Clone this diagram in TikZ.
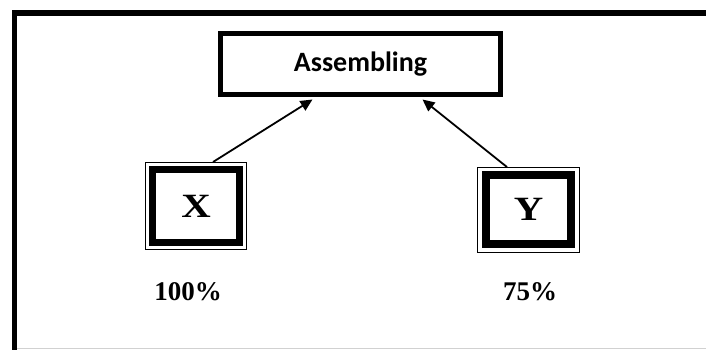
\documentclass[tikz,border=0pt]{standalone}
\usepackage{fontspec}
\setmainfont{Liberation Serif}
\newfontfamily\asmfont{Carlito}
\newfontfamily\boxfont[FakeStretch=1.2]{Liberation Serif}
\usetikzlibrary{arrows.meta}
\tikzset{
  asmbox/.style={draw, line width=5pt, inner sep=0pt, font=\asmfont\bfseries\fontsize{28}{32}\selectfont},
  thinbox/.style={draw, line width=1pt, inner sep=0pt},
  thickbox/.style={draw, inner sep=0pt, font=\boxfont\bfseries\fontsize{34}{38}\selectfont},
  pct/.style={inner sep=0pt, font=\bfseries\fontsize{27}{30}\selectfont},
  conn/.style={line width=1.8pt, -{Triangle[length=12pt,width=11pt]}},
}
\begin{document}
\begin{tikzpicture}[x=1pt,y=-1pt]
\clip (0,0) rectangle (706,349);
\fill[white] (0,0) rectangle (706,349);
% frame
\draw[line width=5.5pt] (14.5,360) -- (14.5,13) -- (720,13);
\draw[black!18, line width=1pt] (17,348.2) -- (720,348.2);
% assembling
\node[asmbox, minimum width=280pt, minimum height=61pt] (A) at (360.5,64) {Assembling};
% X
\node[thinbox, minimum width=101.5pt, minimum height=87pt] (Xo) at (196,206) {};
\node[thickbox, line width=7pt, minimum width=87pt, minimum height=73pt] (X) at (Xo) {X};
% Y
\node[thinbox, minimum width=102pt, minimum height=84.5pt] (Yo) at (528.5,209.8) {};
\node[thickbox, line width=8pt, minimum width=85pt, minimum height=69pt] (Y) at (Yo) {Y};
% labels
\node[pct] (p100) at (188,292) {100\%};
\node[pct] (p75) at (530,292) {75\%};
% connectors
\coordinate (a1) at ([xshift=-48pt]A.south);
\coordinate (a2) at ([xshift=62pt]A.south);
\draw[conn] ([xshift=17pt]Xo.north) -- ([yshift=-2.5pt]a1);
\draw[conn] ([xshift=-21.5pt]Yo.north) -- ([yshift=-2.5pt]a2);
\end{tikzpicture}
\end{document}
